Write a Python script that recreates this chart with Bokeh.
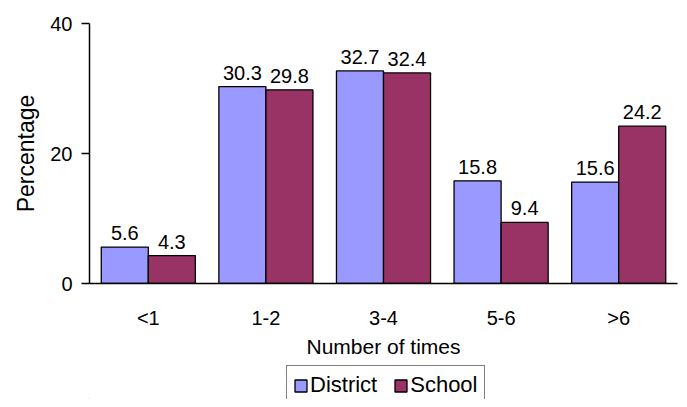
from bokeh.plotting import figure
from bokeh.models import ColumnDataSource, Legend, LegendItem, FactorRange, Range1d, FixedTicker
from bokeh.layouts import column
from bokeh.transform import dodge
from bokeh.core.properties import value
from bokeh.embed import file_html
from bokeh.resources import INLINE

categories = ["<1", "1-2", "3-4", "5-6", ">6"]
district = [5.6, 30.3, 32.7, 15.8, 15.6]
school = [4.3, 29.8, 32.4, 9.4, 24.2]
y_ticks = [0, 20, 40]
series_names = ["District", "School"]
series_colors = ["#9999FF", "#993366"]

FONT = "Liberation Sans"

src = ColumnDataSource(dict(
    cat=categories,
    district=district,
    school=school,
    dlab=[f"{v:.1f}" for v in district],
    slab=[f"{v:.1f}" for v in school],
))

p = figure(width=679, height=360, x_range=FactorRange(factors=categories, range_padding=0),
           y_range=Range1d(0, 40), output_backend="svg", toolbar_location=None,
           min_border_left=89, min_border_right=2, min_border_top=23, min_border_bottom=76)

p.outline_line_color = None
p.xgrid.grid_line_color = None
p.ygrid.grid_line_color = None

p.vbar(x=dodge("cat", -0.2, range=p.x_range), top="district", width=0.4, source=src,
       fill_color=series_colors[0], line_color="black", line_width=1.3)
p.vbar(x=dodge("cat", 0.2, range=p.x_range), top="school", width=0.4, source=src,
       fill_color=series_colors[1], line_color="black", line_width=1.3)

p.text(x=dodge("cat", -0.2, range=p.x_range), y="district", text="dlab", source=src,
       text_align="center", text_baseline="alphabetic", y_offset=-14,
       text_font=value(FONT), text_font_size="20px", text_color="black")
p.text(x=dodge("cat", 0.2, range=p.x_range), y="school", text="slab", source=src,
       text_align="center", text_baseline="alphabetic", y_offset=-14,
       text_font=value(FONT), text_font_size="20px", text_color="black")

ya = p.yaxis[0]
ya.ticker = FixedTicker(ticks=y_ticks)
ya.minor_tick_line_color = None
ya.major_tick_in = 0
ya.major_tick_out = 8
ya.major_tick_line_width = 1.5
ya.major_tick_line_color = "black"
ya.axis_line_width = 1.5
ya.axis_line_color = "black"
ya.axis_label = "Percentage"
ya.axis_label_text_font = FONT
ya.axis_label_text_font_size = "23px"
ya.axis_label_text_font_style = "normal"
ya.axis_label_text_color = "black"
ya.axis_label_standoff = 8
ya.major_label_text_font = FONT
ya.major_label_text_font_size = "20px"
ya.major_label_text_color = "black"
ya.major_label_standoff = 9

xa = p.xaxis[0]
xa.major_tick_line_color = None
xa.major_tick_in = 0
xa.major_tick_out = 0
xa.minor_tick_line_color = None
xa.axis_line_width = 1.5
xa.axis_line_color = "black"
xa.major_label_text_font = FONT
xa.major_label_text_font_size = "20px"
xa.major_label_text_color = "black"
xa.major_label_standoff = 23
xa.axis_label = "Number of times"
xa.axis_label_text_font = FONT
xa.axis_label_text_font_size = "21px"
xa.axis_label_text_font_style = "normal"
xa.axis_label_text_color = "black"
xa.axis_label_standoff = 3

# legend strip below the chart (frame aligned with the main chart)
lg = figure(width=679, height=39, x_range=Range1d(0, 10), y_range=Range1d(0, 10),
            output_backend="svg", toolbar_location=None,
            x_axis_location=None, y_axis_location=None,
            min_border_left=89, min_border_right=2, min_border_top=0, min_border_bottom=0)
lg.xgrid.grid_line_color = None
lg.ygrid.grid_line_color = None
lg.outline_line_color = None
items = []
for name, col in zip(series_names, series_colors):
    rr = lg.vbar(x=[-100], top=[-100], bottom=[-101], width=1,
                 fill_color=col, line_color="black", line_width=1.3)
    items.append(LegendItem(label=name, renderers=[rr]))

legend = Legend(items=items, orientation="horizontal", location=(197, -6),
                label_text_font=FONT, label_text_font_size="22px", label_text_color="black",
                glyph_width=15, glyph_height=15, label_standoff=2, spacing=16,
                padding=6, margin=0, border_line_color="black", border_line_width=1.5,
                label_height=18, background_fill_alpha=0)
lg.add_layout(legend, "center")

layout = column(p, lg, spacing=0)
open("out.html", "w").write(file_html(layout, INLINE))
